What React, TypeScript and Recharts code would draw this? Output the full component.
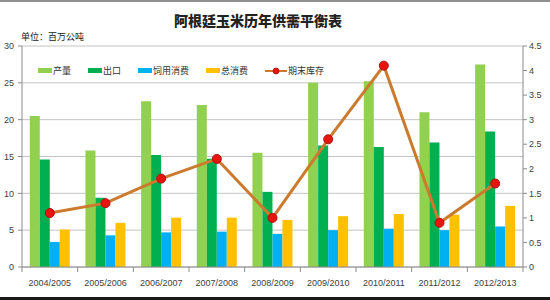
import React from "react";
import {
  ComposedChart,
  Bar,
  Line,
  XAxis,
  YAxis,
  CartesianGrid,
  Legend,
} from "recharts";

// 阿根廷玉米 supply/demand, million tonnes (stocks on right axis)
const years = [
  "2004/2005",
  "2005/2006",
  "2006/2007",
  "2007/2008",
  "2008/2009",
  "2009/2010",
  "2010/2011",
  "2011/2012",
  "2012/2013",
];
const production = [20.5, 15.8, 22.5, 22.0, 15.5, 25.0, 25.2, 21.0, 27.5];
const exportsVol = [14.6, 9.4, 15.2, 14.7, 10.2, 16.5, 16.3, 16.9, 18.4];
const feedUse = [3.4, 4.3, 4.7, 4.8, 4.5, 5.0, 5.2, 5.0, 5.5];
const totalUse = [5.1, 6.0, 6.7, 6.7, 6.4, 6.9, 7.2, 7.1, 8.3];
const endingStocks = [1.1, 1.3, 1.8, 2.2, 1.0, 2.6, 4.1, 0.9, 1.7];

const seriesNames = ["产量", "出口", "饲用消费", "总消费", "期末库存"];

const leftTicks = [0, 5, 10, 15, 20, 25, 30];
const rightTicks = [0, 0.5, 1, 1.5, 2, 2.5, 3, 3.5, 4, 4.5];

const data = years.map((y, i) => ({
  year: y,
  production: production[i],
  exports: exportsVol[i],
  feed: feedUse[i],
  total: totalUse[i],
  stocks: endingStocks[i],
}));

const cjk = '"Noto Sans CJK SC", "Noto Sans", sans-serif';
const num = '"Liberation Sans", Arial, sans-serif';
const axisGray = "#8c8c8c";

// band width of one category, used only for the boundary tick marks
const HALF_BAND = (523 - 22) / 9 / 2;

const YearTick = (props: any) => {
  const { x, y, payload, index } = props;
  return (
    <g>
      {index === 0 && (
        <line x1={x - HALF_BAND} x2={x - HALF_BAND} y1={y} y2={y + 5} stroke={axisGray} />
      )}
      <line x1={x + HALF_BAND} x2={x + HALF_BAND} y1={y} y2={y + 5} stroke={axisGray} />
      <text
        x={x}
        y={y + 19}
        textAnchor="middle"
        fontSize={9}
        fontFamily={num}
        fill="#404040"
      >
        {payload.value}
      </text>
    </g>
  );
};

const renderLegend = (props: any) => {
  const items = [...(props.payload || [])].sort(
    (a: any, b: any) => seriesNames.indexOf(a.value) - seriesNames.indexOf(b.value)
  );
  return (
    <div
      style={{
        display: "flex",
        alignItems: "center",
        fontFamily: cjk,
        fontSize: 9,
        color: "#333",
        whiteSpace: "nowrap",
      }}
    >
      {items.map((it: any) => (
        <div key={it.value} style={{ display: "flex", alignItems: "center", marginRight: 17 }}>
          {it.type === "line" ? (
            <svg width={22} height={10} style={{ marginRight: 1 }}>
              <line x1={0} x2={22} y1={5} y2={5} stroke="#cc7a2e" strokeWidth={2} />
              <circle cx={11} cy={5} r={3} fill="#e8150f" stroke="#b01010" strokeWidth={0.8} />
            </svg>
          ) : (
            <span
              style={{
                display: "inline-block",
                width: 14,
                height: 5,
                background: it.color,
                marginRight: 1,
              }}
            />
          )}
          <span>{it.value}</span>
        </div>
      ))}
    </div>
  );
};

export default function App() {
  return (
    <div
      style={{
        position: "absolute",
        left: 0,
        top: 0,
        width: 550,
        height: 300,
        background: "#fff",
        overflow: "hidden",
      }}
    >
      <div style={{ position: "absolute", left: 0, top: 0, width: 550, height: 2, background: "#8f8f8f" }} />
      <div style={{ position: "absolute", left: 0, top: 297, width: 550, height: 3, background: "#1a1a1a" }} />
      <div
        style={{
          position: "absolute",
          left: 0,
          width: 516,
          top: 11,
          textAlign: "center",
          fontFamily: cjk,
          fontWeight: 900,
          fontSize: 14,
          color: "#222",
          lineHeight: "18px",
        }}
      >
        阿根廷玉米历年供需平衡表
      </div>
      <div
        style={{
          position: "absolute",
          left: 21,
          top: 31,
          fontFamily: cjk,
          fontSize: 9,
          color: "#222",
          lineHeight: "12px",
        }}
      >
        单位：百万公吨
      </div>
      <div style={{ position: "absolute", left: 0, top: 0 }}>
        <ComposedChart
          width={550}
          height={298}
          data={data}
          margin={{ top: 46, right: 0, bottom: 0, left: 0 }}
          barCategoryGap="14%"
          barGap={0}
        >
          <CartesianGrid vertical={false} stroke="#c4c4c4" yAxisId="left" />
          <XAxis
            dataKey="year"
            height={31}
            tickLine={false}
            tickSize={0}
            tickMargin={0}
            stroke={axisGray}
            tick={<YearTick />}
            interval={0}
          />
          <YAxis
            yAxisId="left"
            width={22}
            domain={[0, 30]}
            ticks={leftTicks}
            tickSize={4}
            tickMargin={4}
            stroke={axisGray}
            tick={{ fontSize: 9, fontFamily: num, fill: "#404040" }}
            interval={0}
          />
          <YAxis
            yAxisId="right"
            orientation="right"
            width={27}
            domain={[0, 4.5]}
            ticks={rightTicks}
            tickSize={4}
            tickMargin={2}
            stroke={axisGray}
            tick={{ fontSize: 9, fontFamily: num, fill: "#404040", textAnchor: "start" }}
            interval={0}
          />
          <Legend
            layout="horizontal"
            align="center"
            verticalAlign="middle"
            wrapperStyle={{ left: 38, top: 64, width: "auto" }}
            content={renderLegend}
          />
          <Bar yAxisId="left" dataKey="production" name="产量" fill="#92d050" legendType="rect" isAnimationActive={false} />
          <Bar yAxisId="left" dataKey="exports" name="出口" fill="#00b050" legendType="rect" isAnimationActive={false} />
          <Bar yAxisId="left" dataKey="feed" name="饲用消费" fill="#00b0f0" legendType="rect" isAnimationActive={false} />
          <Bar yAxisId="left" dataKey="total" name="总消费" fill="#ffc000" legendType="rect" isAnimationActive={false} />
          <Line
            yAxisId="right"
            dataKey="stocks"
            name="期末库存"
            type="linear"
            stroke="#cc7a2e"
            strokeWidth={3}
            legendType="line"
            dot={{ r: 4.5, fill: "#e8150f", stroke: "#b01010", strokeWidth: 1 }}
            isAnimationActive={false}
          />
        </ComposedChart>
      </div>
    </div>
  );
}
